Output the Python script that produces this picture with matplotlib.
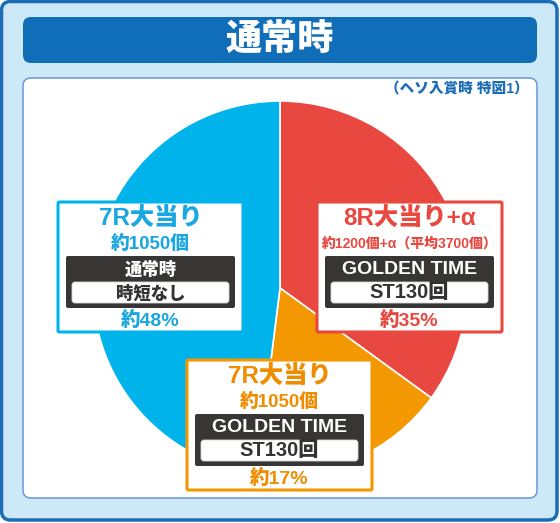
import matplotlib
matplotlib.use("Agg")
import matplotlib.pyplot as plt
from matplotlib.patches import FancyBboxPatch

# Latin glyphs from Liberation Sans, Japanese glyphs from Noto Sans CJK JP
plt.rcParams['font.family'] = ['Liberation Sans', 'Noto Sans CJK JP', 'DejaVu Sans']

# Data
title = "通常時"
note = "（ヘソ入賞時 特図1）"
categories = ["8R大当り+α", "7R大当り", "7R大当り"]
shares = [35, 17, 48]
payouts = ["約1200個+α（平均3700個）", "約1050個", "約1050個"]
modes = ["GOLDEN TIME", "GOLDEN TIME", "通常時"]
mode_details = ["ST130回", "ST130回", "時短なし"]
colors = ["#e8483f", "#f39800", "#00b4eb"]
text_colors = ["#e8483f", "#f08c00", "#1aa6e0"]

W, H = 560, 523
fig = plt.figure(figsize=(W / 100, H / 100), dpi=100)
ax = fig.add_axes([0, 0, 1, 1])


def Y(y):
    return H - y


def rbox(x0, y0, x1, y1, r, fc, ec='none', lw=0, z=1):
    p = FancyBboxPatch((x0, Y(y1)), x1 - x0, y1 - y0,
                       boxstyle=f"round,pad=0,rounding_size={r}",
                       fc=fc, ec=ec, lw=lw, zorder=z)
    ax.add_patch(p)


def label(x, y, s, color, size, z):
    ax.text(x, Y(y), s, color=color, fontsize=size, fontweight='heavy',
            ha='center', va='center', zorder=z)


# Frame, title bar and white panel
rbox(1.5, 1.5, 557, 520, 9, "#cde9f7", "#1b6db5", 2.5, z=0)
rbox(23, 17, 537, 63, 8, "#106eb8", z=1)
label(280, 41, title, "white", 26, 2)
rbox(23, 78, 537, 498, 8, "white", "#5b8fd0", 1.0, z=1)
ax.text(529, Y(89), note, color="#1b6db5", fontsize=10.5, fontweight='heavy',
        ha='right', va='center', zorder=2)

# Pie
ax.pie(shares, colors=colors, startangle=90, counterclock=False,
       center=(280, Y(288)), radius=187, frame=True,
       wedgeprops=dict(edgecolor='white', linewidth=1.2, zorder=2))
ax.set_xlim(0, W)
ax.set_ylim(0, H)
ax.set_aspect('equal')
ax.axis('off')

# Label boxes: (box left, box top, payout text size)
boxes = [
    (317, 202, 10),
    (187, 360, 13.5),
    (58, 202, 13.5),
]

for i, (bx, by, ps) in enumerate(boxes):
    bw, bh = 185, 130
    cx = bx + bw / 2
    tc = text_colors[i]
    rbox(bx, by, bx + bw, by + bh, 1.5, "white", colors[i], 2.2, z=3)
    label(cx, by + 17, categories[i], tc, 17.5, 4)
    label(cx, by + 42, payouts[i], tc, ps, 4)
    rbox(bx + 8, by + 54, bx + bw - 8, by + 106, 2, "#383635", z=4)
    label(cx, by + 67, modes[i], "white", 14 if modes[i].isascii() else 12.5, 5)
    rbox(bx + 14, by + 80, bx + bw - 14, by + 101, 3, "white", "#d8d8d8", 0.6, z=5)
    label(cx, by + 91, mode_details[i], "#333333", 14.5 if i < 2 else 12.5, 6)
    label(cx, by + 118, f"約{shares[i]}%", tc, 14, 4)

fig.savefig("out.png", dpi=100)
